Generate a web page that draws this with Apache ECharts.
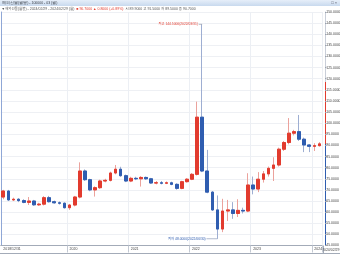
<!DOCTYPE html>
<html>
<head>
<meta charset="utf-8">
<script src="https://cdn.jsdelivr.net/npm/echarts@6/dist/echarts.min.js"></script>
<style>
  html, body { margin: 0; padding: 0; background: #fff; }
  #chart { width: 340px; height: 254px; }
</style>
</head>
<body>
<div id="chart"></div>
<script>
// monthly candles, 2018/12 .. 2024/02
var dates = [
  '2018/12/31',
  '2019/01/31', '2019/02/28', '2019/03/31', '2019/04/30', '2019/05/31', '2019/06/30',
  '2019/07/31', '2019/08/31', '2019/09/30', '2019/10/31', '2019/11/30', '2019/12/31',
  '2020/01/31', '2020/02/29', '2020/03/31', '2020/04/30', '2020/05/31', '2020/06/30',
  '2020/07/31', '2020/08/31', '2020/09/30', '2020/10/31', '2020/11/30', '2020/12/31',
  '2021/01/31', '2021/02/28', '2021/03/31', '2021/04/30', '2021/05/31', '2021/06/30',
  '2021/07/31', '2021/08/31', '2021/09/30', '2021/10/31', '2021/11/30', '2021/12/31',
  '2022/01/31', '2022/02/28', '2022/03/31', '2022/04/30', '2022/05/31', '2022/06/30',
  '2022/07/31', '2022/08/31', '2022/09/30', '2022/10/31', '2022/11/30', '2022/12/31',
  '2023/01/31', '2023/02/28', '2023/03/31', '2023/04/30', '2023/05/31', '2023/06/30',
  '2023/07/31', '2023/08/31', '2023/09/30', '2023/10/31', '2023/11/30', '2023/12/31',
  '2024/01/31', '2024/02/29'
];
var opens = [
  66.8,
  69.5, 65.5, 65.8, 65.2, 64.4, 65.0, 63.3, 63.6, 66.5, 64.7, 64.2, 64.0,
  62.0, 63.2, 66.8, 78.5, 74.6, 70.0, 71.0, 74.0, 74.3, 77.6, 79.3, 76.4,
  74.0, 75.2, 75.0, 75.6, 75.0, 73.1, 73.2, 73.0, 73.2, 72.5, 70.7, 73.7,
  74.8, 77.0, 102.7, 78.5, 69.0, 61.0, 52.4, 60.5, 61.0, 59.4, 60.8, 60.5,
  72.2, 70.4, 74.8, 77.2, 79.7, 81.2, 88.3, 91.3, 95.5, 96.2, 92.8, 90.2,
  89.6, 89.9
];
var closes = [
  69.5,
  65.5, 65.8, 65.2, 64.4, 65.0, 63.3, 63.6, 66.5, 64.7, 64.2, 64.0, 62.0,
  63.2, 66.8, 78.5, 74.6, 70.0, 71.0, 74.0, 74.3, 77.6, 79.3, 76.4, 74.0,
  75.2, 75.0, 75.6, 75.0, 73.1, 73.2, 73.0, 73.2, 72.5, 70.7, 73.7, 74.8,
  77.0, 102.7, 78.5, 69.0, 61.0, 52.4, 60.5, 61.0, 59.4, 60.8, 60.5, 72.2,
  70.4, 74.8, 77.2, 79.7, 81.2, 88.3, 91.3, 95.5, 96.2, 92.8, 90.2, 89.6,
  89.9, 90.7
];
var lows = [
  65.8,
  65.0, 65.0, 64.5, 64.0, 63.2, 62.8, 62.8, 63.0, 64.3, 63.8, 63.4, 61.6,
  61.0, 62.6, 66.2, 74.0, 69.4, 67.0, 70.4, 73.4, 73.8, 77.0, 75.9, 73.5,
  73.5, 74.4, 71.5, 74.5, 72.7, 72.5, 72.5, 72.6, 72.1, 70.1, 70.3, 73.3,
  74.4, 76.5, 78.0, 68.5, 60.5, 48.0, 51.0, 56.0, 57.0, 57.8, 59.4, 60.0,
  68.0, 69.0, 73.3, 76.0, 74.0, 80.5, 87.5, 90.5, 94.5, 92.0, 87.0, 87.0,
  87.5, 89.5
];
var highs = [
  70.0,
  70.0, 66.5, 66.3, 65.8, 66.8, 65.5, 64.2, 67.2, 67.3, 65.2, 64.8, 64.4,
  63.7, 67.3, 82.4, 79.2, 75.0, 71.6, 74.6, 75.0, 78.2, 81.2, 80.4, 76.9,
  75.9, 75.9, 76.2, 76.0, 75.4, 74.0, 74.0, 73.8, 73.7, 73.0, 74.1, 75.3,
  77.6, 109.7, 144.5, 88.0, 69.5, 67.5, 66.0, 65.5, 64.5, 65.8, 62.0, 77.5,
  76.0, 78.0, 78.5, 80.5, 84.7, 89.0, 92.0, 102.3, 97.0, 103.7, 93.5, 90.6,
  91.0, 91.5
];
var priceTicks = { min: 45, max: 150, step: 5 };
var titleText = '해외선물(월봉) - 100000 - 03 (월)';
var legendName = '▼해외선물(월봉) - 2024/02/29 - 2024/02/29 (월)';

var FONT = "'Liberation Sans', 'Noto Sans CJK KR', sans-serif";
var RED = '#e23b2e', BLUE = '#2f5db0';
var RED_W = '#eba29c', BLUE_W = '#9eaed2';

var n = dates.length;
var last = n - 1;
var bodies = dates.map(function (d, i) {
  return [opens[i], closes[i], Math.min(opens[i], closes[i]), Math.max(opens[i], closes[i])];
});
var wicks = dates.map(function (d, i) {
  return [opens[i], closes[i], lows[i], highs[i]];
});
var hiVal = Math.max.apply(null, highs), hiIdx = highs.indexOf(hiVal);
var loVal = Math.min.apply(null, lows), loIdx = lows.indexOf(loVal);
var chg = closes[last] - closes[last - 1];
var chgPct = chg / closes[last - 1] * 100;

function isYearStart(i) {
  return i > 1 && dates[i].slice(5, 7) === '01';
}

// right axis line: grey above, red down to last close, blue below
var f1 = (priceTicks.max - 118) / (priceTicks.max - priceTicks.min);
var f2 = (priceTicks.max - closes[last]) / (priceTicks.max - priceTicks.min);
var axisGrad = new echarts.graphic.LinearGradient(0, 0, 0, 1, [
  { offset: 0, color: '#c9ced8' }, { offset: f1, color: '#c9ced8' },
  { offset: f1, color: RED }, { offset: f2, color: RED },
  { offset: f2, color: BLUE }, { offset: 1, color: BLUE }
]);

var chart = echarts.init(document.getElementById('chart'));
chart.setOption({
  animation: false,
  backgroundColor: '#fff',
  textStyle: { fontFamily: FONT },
  grid: { left: 0.75, right: 18, top: 12, bottom: 8.5, outerBoundsMode: 'none' },
  xAxis: {
    type: 'category',
    data: dates,
    boundaryGap: true,
    axisLine: { lineStyle: { color: '#a3abb8', width: 1 } },
    axisTick: { show: true, interval: isYearStart, length: 7, lineStyle: { color: '#c3c9d3' } },
    axisLabel: {
      interval: function (i) { return i === 0 || isYearStart(i); },
      formatter: function (v, i) { return i === 0 ? v : v.slice(0, 4); },
      align: 'left', fontSize: 3.5, margin: 1.8, color: '#444', fontFamily: FONT
    },
    splitLine: { show: true, interval: isYearStart, lineStyle: { color: '#eceff4', width: 1 } }
  },
  yAxis: [
    {
      type: 'value', position: 'right', offset: 3,
      min: priceTicks.min, max: priceTicks.max, interval: priceTicks.step,
      axisLine: { show: true, lineStyle: { color: axisGrad, width: 1 } },
      axisTick: { show: true, length: 1.5, lineStyle: { color: '#9aa2ae' } },
      axisLabel: {
        fontSize: 3.5, color: '#444', margin: 1.2, fontFamily: FONT,
        formatter: function (v) { return v.toFixed(4); }
      },
      splitLine: { show: true, lineStyle: { color: '#eef0f4', width: 1 } }
    },
    {
      type: 'value', position: 'left',
      min: priceTicks.min, max: priceTicks.max,
      axisLine: { show: true, lineStyle: { color: '#8fa7d6', width: 1 } },
      axisTick: { show: false }, axisLabel: { show: false }, splitLine: { show: false }
    }
  ],
  series: [
    {
      name: 'wick', type: 'candlestick', data: wicks, barWidth: 3.2,
      itemStyle: { color: RED_W, color0: BLUE_W, borderColor: RED_W, borderColor0: BLUE_W, borderWidth: 1 }
    },
    {
      name: 'body', type: 'candlestick', data: bodies, barWidth: 3.2,
      itemStyle: { color: RED, color0: BLUE, borderColor: RED, borderColor0: BLUE, borderWidth: 1 },
      markPoint: {
        silent: true,
        data: [
          {
            coord: [dates[hiIdx], hiVal], symbol: 'rect', symbolSize: [3.5, 0.7], symbolOffset: [-1.75, 0],
            itemStyle: { color: '#9aa0ac' },
            label: {
              show: true, position: 'left', distance: 0.8, fontSize: 3.3, color: RED, fontFamily: FONT,
              formatter: '최고 ' + hiVal.toFixed(4) + '(' + dates[hiIdx] + ')'
            }
          },
          {
            coord: [dates[loIdx], loVal], symbol: 'rect', symbolSize: [11, 0.7], symbolOffset: [-5.5, 0],
            itemStyle: { color: '#8e9bb8' },
            label: {
              show: true, position: 'left', distance: 0.8, fontSize: 3.3, color: BLUE, fontFamily: FONT,
              formatter: '최저 ' + loVal.toFixed(4) + '(' + dates[loIdx] + ')'
            }
          }
        ]
      },
      markLine: {
        silent: true, symbol: 'none',
        lineStyle: { opacity: 0 },
        data: [{ yAxis: closes[last] }],
        label: {
          show: true, position: 'end', distance: 2.5,
          formatter: closes[last].toFixed(4),
          backgroundColor: RED, color: '#fff', fontSize: 3.5, padding: [1.2, 1.2], fontFamily: FONT
        }
      }
    }
  ],
  graphic: [
    {
      type: 'rect', left: 0, top: 0, silent: true,
      shape: { width: 340, height: 6 },
      style: {
        fill: new echarts.graphic.LinearGradient(0, 0, 0, 1, [
          { offset: 0, color: '#e6eef9' }, { offset: 1, color: '#c8d9ee' }
        ])
      }
    },
    { type: 'text', left: 2, top: 1.2, silent: true,
      style: { text: titleText, fontSize: 3.5, fill: '#3a3f48', font: '3.5px ' + FONT } },
    { type: 'text', right: 3, top: 1, silent: true,
      style: { text: '□ ×', fontSize: 4, fill: '#556', font: '4px ' + FONT } },
    { type: 'text', left: 1.5, top: 7.3, silent: true,
      style: {
        text: '{a|' + legendName + '}  {r|■ ' + closes[last].toFixed(4) + ' ▲ ' + chg.toFixed(4) +
              ' (+' + chgPct.toFixed(2) + '%)}  {a|시 ' + opens[last].toFixed(4) + ' 고 ' + highs[last].toFixed(4) +
              ' 저 ' + lows[last].toFixed(4) + ' 종 ' + closes[last].toFixed(4) + '}',
        font: '3.5px ' + FONT,
        rich: {
          a: { fill: '#555', fontSize: 3.5, fontFamily: FONT },
          r: { fill: RED, fontSize: 3.5, fontFamily: FONT }
        }
      }
    },
    { type: 'line', silent: true, shape: { x1: 0, y1: 253.5, x2: 340, y2: 253.5 },
      style: { stroke: '#a3abb8', lineWidth: 1 } },
    { type: 'line', silent: true, shape: { x1: 323.5, y1: 245.5, x2: 323.5, y2: 253.5 },
      style: { stroke: '#a3abb8', lineWidth: 1 } },
    { type: 'text', right: 0.5, top: 247.6, silent: true,
      style: { text: dates[last], fontSize: 3.5, fill: '#444', font: '3.5px ' + FONT } }
  ]
});
</script>
</body>
</html>
